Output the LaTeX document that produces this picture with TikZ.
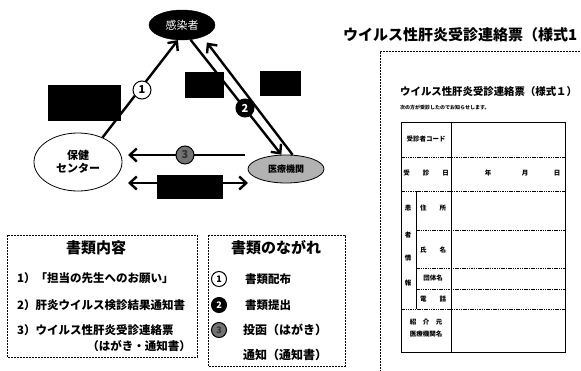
\documentclass[tikz,border=0pt]{standalone}
\usepackage{fontspec}
\setmainfont{Noto Sans CJK JP}
\usetikzlibrary{arrows.meta,shapes.geometric}
\begin{document}
\begin{tikzpicture}[x=1pt,y=-1pt,
  arr/.style={line width=2.4pt,-{Straight Barb[length=7pt,width=13pt,line width=2.4pt]}},
  darr/.style={line width=2.4pt,{Straight Barb[length=7pt,width=13pt,line width=2.4pt]}-{Straight Barb[length=7pt,width=13pt,line width=2.4pt]}},
  blk/.style={fill=black,draw=black,inner sep=0pt},
  num/.style={circle,draw=black,line width=1pt,minimum size=18pt,inner sep=0pt,font=\bfseries\fontsize{11}{11}\selectfont},
  smallnum/.style={circle,draw=black,line width=1pt,minimum size=15pt,inner sep=0pt,font=\bfseries\fontsize{9}{9}\selectfont},
  dbox/.style={draw=black,dashed,dash pattern=on 2pt off 1pt,line width=0.8pt},
  item/.style={anchor=west,inner sep=0pt,font=\bfseries\fontsize{11.5}{12}\selectfont},
  ttl/.style={inner sep=0pt,font=\bfseries\fontsize{15}{15}\selectfont},
  tb/.style={inner sep=0pt,font=\bfseries\fontsize{6.5}{7}\selectfont},
  tline/.style={dashed,dash pattern=on 1.5pt off 0.8pt,line width=0.6pt}
]
\useasboundingbox[fill=white] (0,0) rectangle (581,370);

% ---------- diagram ----------
\node[ellipse,fill=black,draw=black,minimum width=66pt,minimum height=30pt,inner sep=0pt,
      text=white,font=\fontsize{11}{11}\selectfont] (kansen) at (182,25) {感染者};
\node[ellipse,draw=black,line width=0.8pt,fill=white,minimum width=88pt,minimum height=58pt,inner sep=0pt,
      align=center,font=\bfseries\fontsize{11}{13}\selectfont] (hoken) at (78,162) {保健\\センター};
\node[ellipse,draw=black,line width=0.8pt,fill=gray!60,minimum width=76pt,minimum height=28pt,inner sep=0pt,
      font=\bfseries\fontsize{9}{9}\selectfont] (iryo) at (286,169) {医療機関};

\coordinate (r3s) at (245,155);
\coordinate (r3e) at (128,155);
\coordinate (dl) at (128,183);
\coordinate (dr) at (248,183);

\draw[arr] (hoken.45) -- (kansen.255);
\draw[arr] (kansen.300) -- (iryo.108);
\draw[arr,shorten >=7pt] (iryo.65) -- (kansen.330);
\draw[arr] (r3s) -- (r3e);
\draw[darr] (dl) -- (dr);

\node[num,fill=white] (c1) at (142,90) {1};
\node[num,fill=black,text=white] (c2) at (245,108) {2};
\node[num,fill=black!55,text=black!80] (c3) at (185,155) {3};

\node[blk,minimum width=72pt,minimum height=35pt] (b1) at (84,102.5) {};
\node[blk,minimum width=38pt,minimum height=25pt] (b2) at (204,84.5) {};
\node[blk,minimum width=40pt,minimum height=24pt] (b3) at (280,83) {};
\node[blk,minimum width=65pt,minimum height=23pt] (b4) at (189.5,186.5) {};

% ---------- bottom left box ----------
\draw[dbox] (7,235) rectangle (197,357);
\node[ttl] (t1) at (96,248) {書類内容};
\node[item] (i1) at (17,278) {1）「担当の先生へのお願い」};
\node[item] (i2) at (17,305) {2）肝炎ウイルス検診結果通知書};
\node[item] (i3) at (17,330) {3）ウイルス性肝炎受診連絡票};
\node[item,anchor=east] (i4) at (191,346) {（はがき・通知書）};

% ---------- bottom right box ----------
\draw[dbox] (208,235) rectangle (345,366);
\node[ttl] (t2) at (276,248) {書類のながれ};
\node[smallnum,fill=white] (m1) at (219,279) {1};
\node[smallnum,fill=black,text=white] (m2) at (219,305) {2};
\node[smallnum,fill=black!55,text=black!80] (m3) at (219,330) {3};
\node[item] (f1) at (245,279) {書類配布};
\node[item] (f2) at (245,305) {書類提出};
\node[item,font=\bfseries\fontsize{12}{12}\selectfont] (f3) at (243,330) {投函（はがき）};
\node[item,font=\bfseries\fontsize{12}{12}\selectfont] (f4) at (243,355) {通知（通知書）};

% ---------- right: form ----------
\node[anchor=west,inner sep=0pt,font=\bfseries\fontsize{15}{16}\selectfont] (bigt) at (343,35) {ウイルス性肝炎受診連絡票（様式1};
\draw[dbox,line width=0.7pt] (380,390) -- (380,51) -- (600,51);
\node[anchor=west,inner sep=0pt,font=\bfseries\fontsize{10.4}{11}\selectfont] (ft) at (400,92) {ウイルス性肝炎受診連絡票（様式１）};
\node[anchor=west,inner sep=0pt,font=\bfseries\fontsize{5}{6}\selectfont] (fs) at (400,108) {次の方が受診したのでお知らせします。};

\draw[line width=1pt] (401,122) rectangle (565,352);
\draw[line width=0.7pt] (451,122) -- (451,352);
\draw[line width=0.7pt] (416,191) -- (416,309);
\draw[tline] (401,157) -- (565,157);
\draw[tline] (401,191) -- (565,191);
\draw[tline] (416,230) -- (565,230);
\draw[tline] (416,268) -- (565,268);
\draw[tline] (416,289) -- (565,289);
\draw[tline] (401,309) -- (565,309);

\node[tb] (k1) at (426,139) {受診者コード};
\node[tb] (k2) at (426,173) {受　　診　　日};
\node[tb] (y1) at (488,173) {年};
\node[tb] (y2) at (525,173) {月};
\node[tb] (y3) at (557,173) {日};
\node[tb] (v1) at (408,208) {患};
\node[tb] (v2) at (408,235) {者};
\node[tb] (v3) at (408,258) {情};
\node[tb] (v4) at (408,283) {報};
\node[tb] (k3) at (433,208) {住　　所};
\node[tb] (k4) at (433,250) {氏　　名};
\node[tb] (k5) at (433,278) {団体名};
\node[tb] (k6) at (433,299) {電　　話};
\node[tb] (k7) at (426,322) {紹　介　元};
\node[tb] (k8) at (426,334) {医療機関名};
\end{tikzpicture}
\end{document}
